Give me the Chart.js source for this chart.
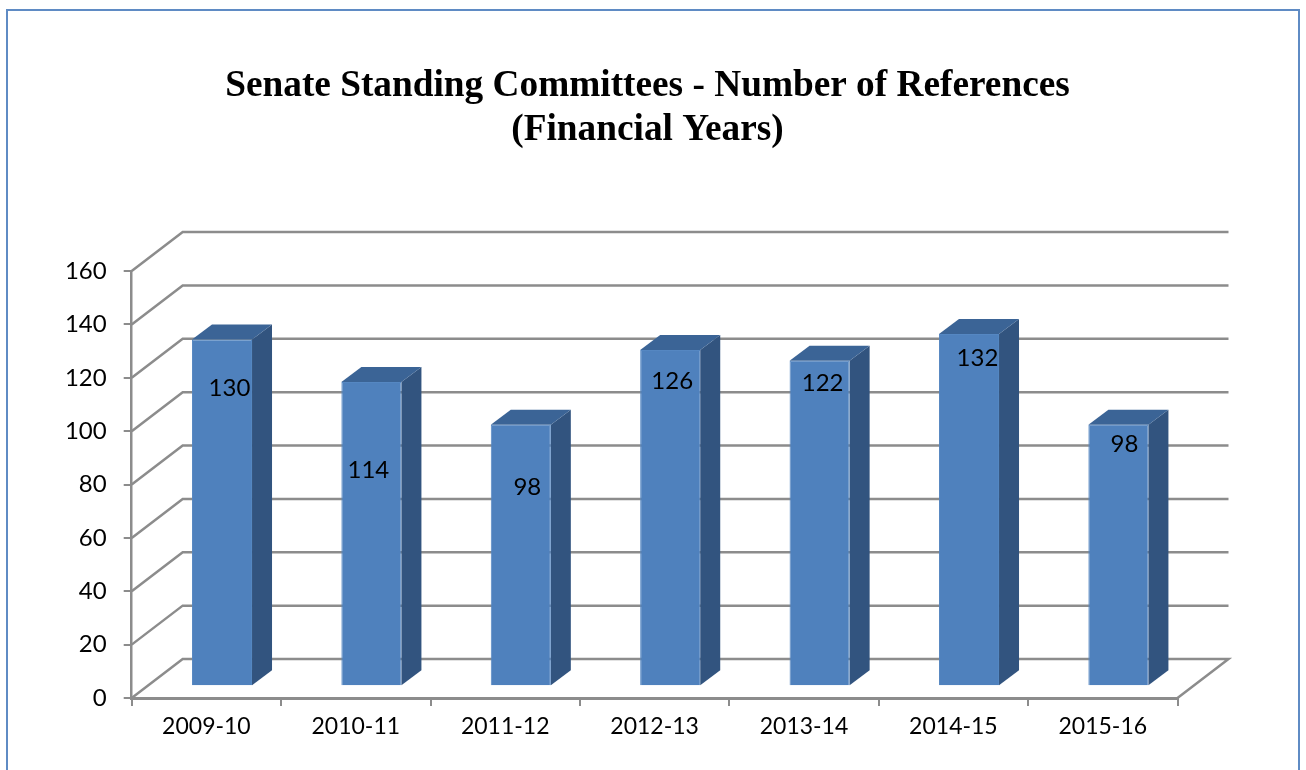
<!DOCTYPE html>
<html>
<head>
<meta charset="utf-8">
<style>html,body{margin:0;padding:0;background:#fff}canvas{display:block}</style>
<script src="https://cdn.jsdelivr.net/npm/chart.js@4"></script>
</head>
<body>
<canvas id="c" width="1306" height="770" style="width:1306px;height:770px"></canvas>
<script>
const categories = ['2009-10','2010-11','2011-12','2012-13','2013-14','2014-15','2015-16'];
const references = [130,114,98,126,122,132,98];
const yTicks = [0,20,40,60,80,100,120,140,160];
const chartTitle = ['Senate Standing Committees - Number of References','(Financial Years)'];

const LABEL_FONT = '24px Lato, Carlito, sans-serif';
const GRID = '#8c8c8c';
const WALL = {dx:51, dy:-39};
const BAR_SHIFT = {dx:15.6, dy:-11.7};
const BAR_DEPTH = {dx:20, dy:-15};
const labelNudgeX = [7.5,-3,6.5,2,3,8.5,6];
const labelNudgeY = [49,88,62,31,23,24,19];

function poly(ctx, pts, fill){
  ctx.beginPath();
  pts.forEach((p,i)=> i?ctx.lineTo(p[0],p[1]):ctx.moveTo(p[0],p[1]));
  ctx.closePath();
  ctx.fillStyle = fill;
  ctx.fill();
}

const scene = {
  id:'scene3d',
  beforeDraw(chart){
    const c = chart.ctx;
    c.save();
    c.fillStyle = '#fff';
    c.fillRect(0,0,chart.width,chart.height);
    c.strokeStyle = '#5f8bc4';
    c.lineWidth = 2;
    c.beginPath();
    c.moveTo(7,770); c.lineTo(7,10); c.lineTo(1299,10); c.lineTo(1299,770);
    c.stroke();
    c.restore();
  },
  beforeDatasetsDraw(chart){
    const c = chart.ctx, y = chart.scales.y, a = chart.chartArea;
    c.save();
    c.strokeStyle = GRID;
    c.lineWidth = 2.5;
    c.lineJoin = 'miter';
    yTicks.forEach(v=>{
      const p = y.getPixelForValue(v);
      c.beginPath();
      c.moveTo(a.left,p);
      c.lineTo(a.left+WALL.dx,p+WALL.dy);
      c.lineTo(a.right+WALL.dx,p+WALL.dy);
      if(v===0) c.lineTo(a.right,p);
      c.stroke();
    });
    c.restore();
    c.save();
    c.translate(BAR_SHIFT.dx,BAR_SHIFT.dy);
    chart.getDatasetMeta(0).data.forEach(b=>{
      const l=b.x-b.width/2, r=b.x+b.width/2, t=b.y, bt=b.base;
      const dx=BAR_DEPTH.dx, dy=BAR_DEPTH.dy;
      poly(c,[[r,t],[r+dx,t+dy],[r+dx,bt+dy],[r,bt]],'#32547f');
      poly(c,[[l,t],[l+dx,t+dy],[r+dx,t+dy],[r,t]],'#3b6496');
    });
  },
  afterDatasetsDraw(chart){
    const c = chart.ctx;
    c.restore();
    c.save();
    c.font = LABEL_FONT;
    c.fillStyle = '#000';
    c.textAlign = 'center';
    c.textBaseline = 'middle';
    chart.getDatasetMeta(0).data.forEach((b,i)=>{
      c.fillText(String(references[i]), b.x+BAR_SHIFT.dx+labelNudgeX[i], b.y+BAR_SHIFT.dy+labelNudgeY[i]);
    });
    c.restore();
  }
};

new Chart(document.getElementById('c'),{
  type:'bar',
  data:{labels:categories,datasets:[{
    data:references,
    yAxisID:'y',
    backgroundColor:'#4f81bd',
    borderColor:'#5587c2',
    borderWidth:1,
    barPercentage:0.402,
    categoryPercentage:1
  }]},
  plugins:[scene],
  options:{
    responsive:false,
    animation:false,
    layout:{padding:{left:0,right:11,top:0,bottom:0}},
    plugins:{
      legend:{display:false},
      tooltip:{enabled:false},
      title:{
        display:true,
        text:chartTitle,
        color:'#000',
        font:{family:'"Liberation Serif", serif',size:37.3,weight:'bold',lineHeight:1.18},
        padding:{top:64,bottom:119}
      }
    },
    scales:{
      x:{
        afterFit(s){s.height=72;},
        grid:{drawOnChartArea:false,color:GRID,lineWidth:2,tickLength:8,offset:true},
        border:{color:GRID,width:3},
        ticks:{color:'#000',font:{family:'Lato, Carlito, sans-serif',size:23},padding:7,maxRotation:0}
      },
      y:{
        min:0,max:160,
        afterFit(s){s.width=131.7;},
        afterBuildTicks(s){s.ticks=yTicks.map(v=>({value:v}));},
        grid:{drawOnChartArea:false,color:GRID,lineWidth:2,tickLength:8},
        border:{color:GRID,width:2.5},
        ticks:{color:'#000',font:{family:'Lato, Carlito, sans-serif',size:24},padding:17}
      },
      spacer:{
        position:'right',
        min:0,max:1,
        afterFit(s){s.width=117.5;},
        grid:{display:false},
        border:{display:false},
        ticks:{display:false}
      }
    }
  }
});
</script>
</body>
</html>
